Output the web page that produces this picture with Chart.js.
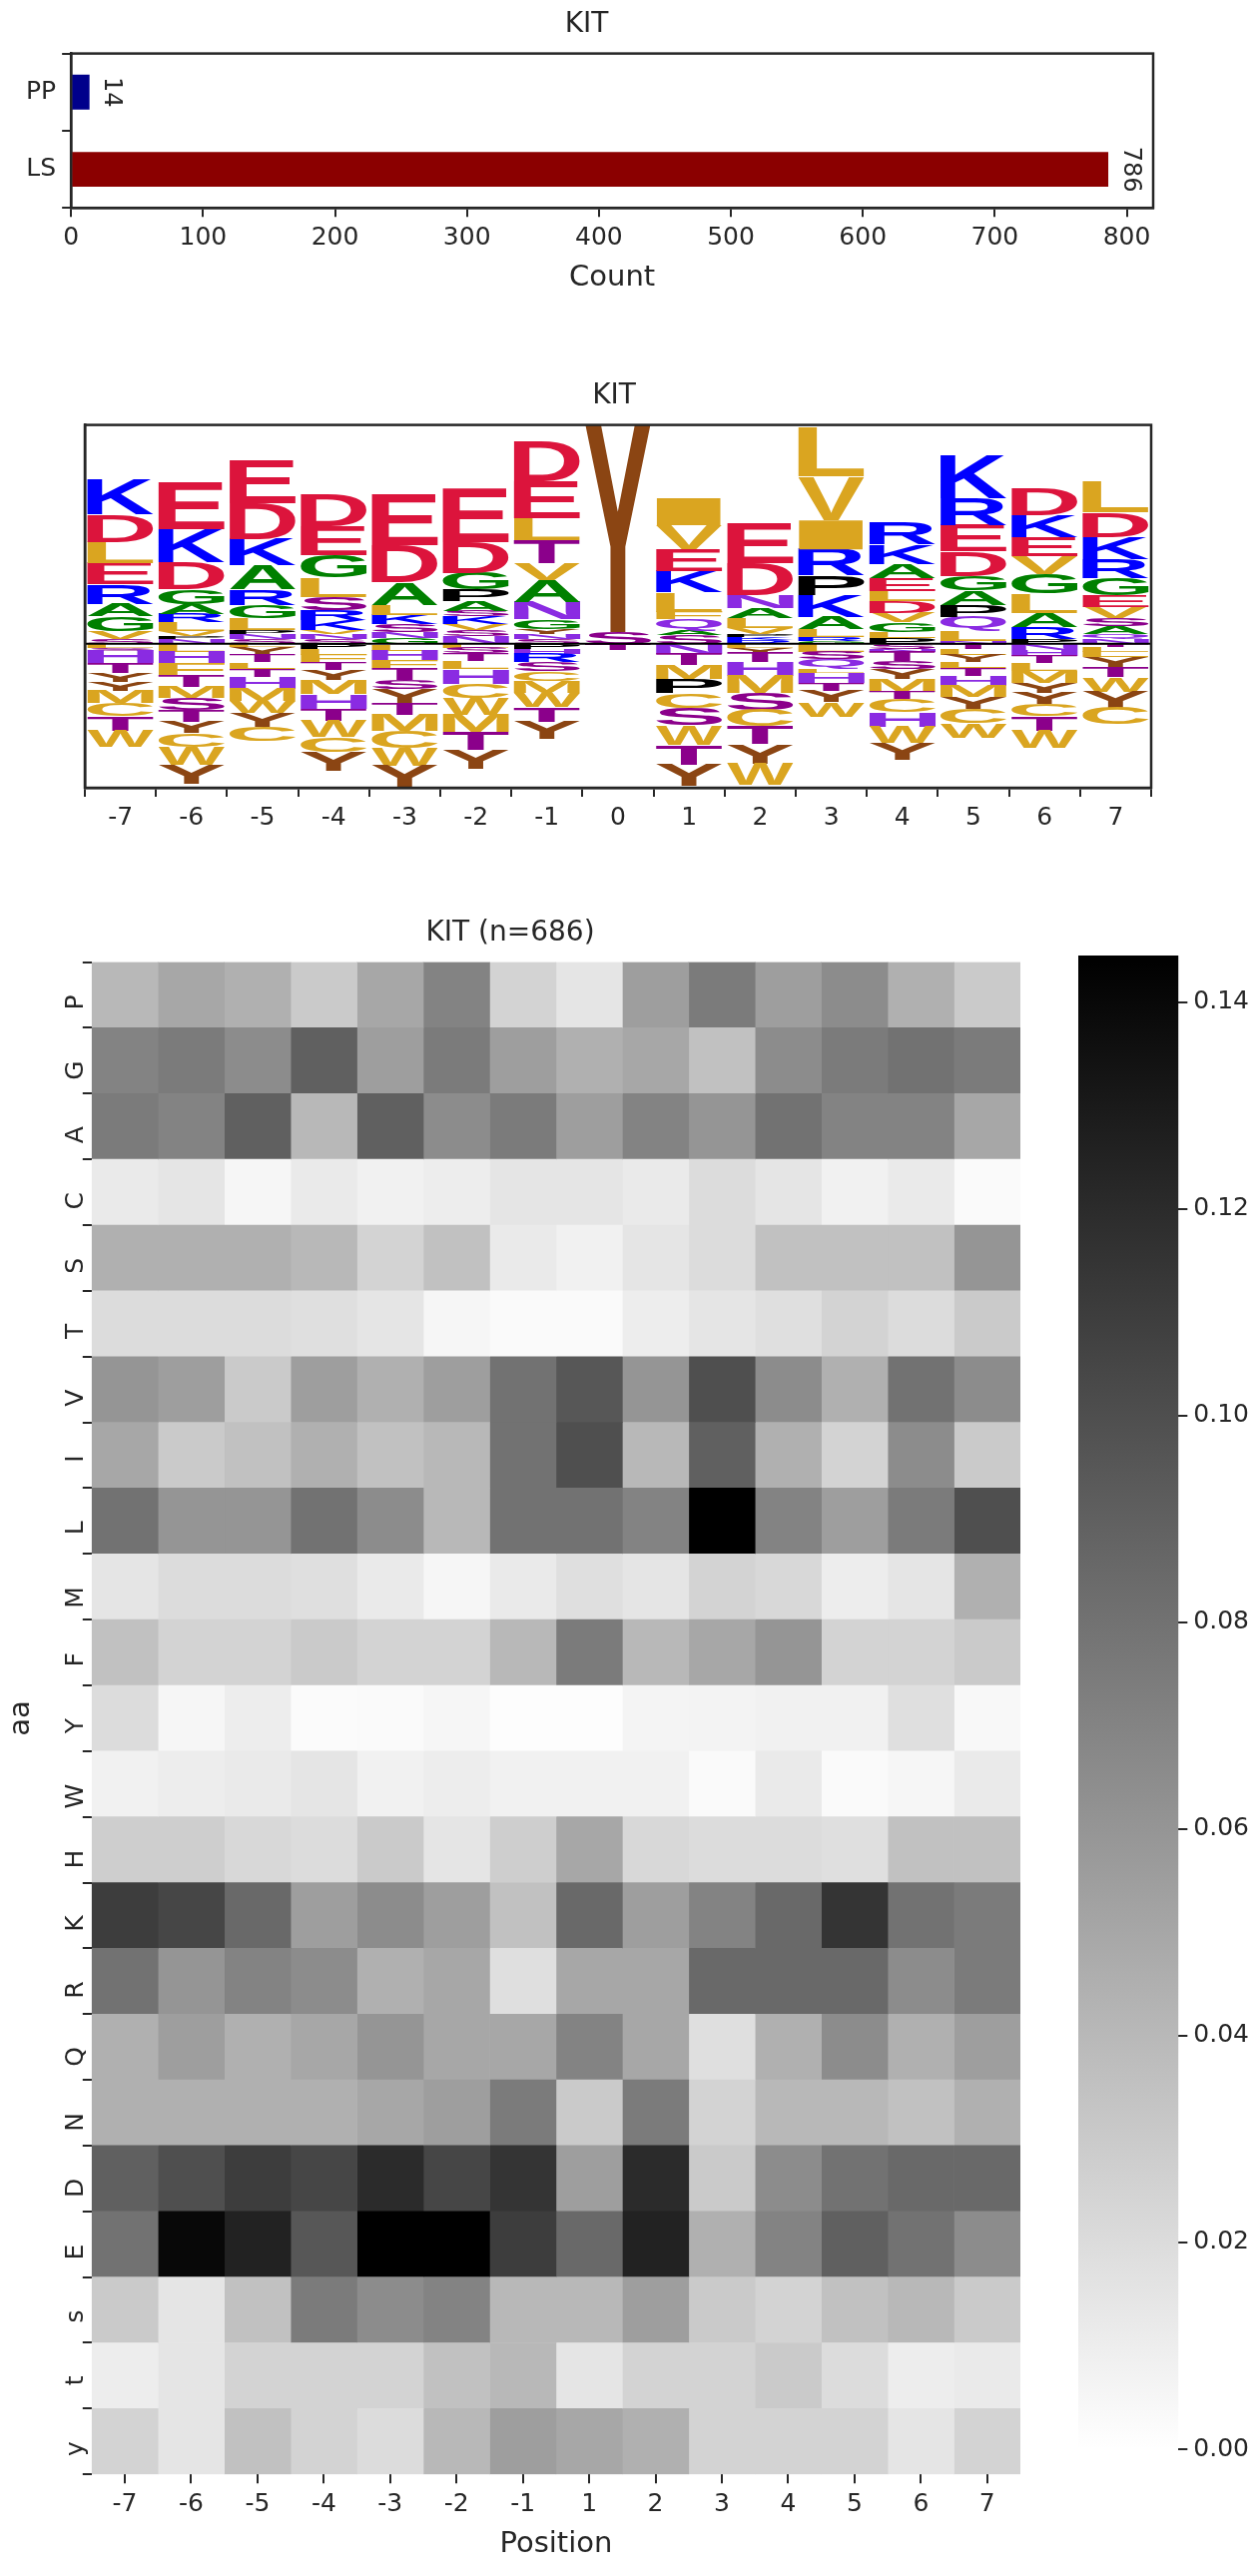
<!DOCTYPE html>
<html>
<head>
<meta charset="utf-8">
<script src="https://cdn.jsdelivr.net/npm/chart.js@4"></script>
<style>
body { margin: 0; background: #fff; width: 1257px; height: 2580px; position: relative; }
canvas { position: absolute; }
</style>
</head>
<body>
<canvas id="countChart" width="1257" height="330" style="left:0px;top:0px"></canvas>
<canvas id="logoChart" width="1257" height="480" style="left:0px;top:380px"></canvas>
<canvas id="heatChart" width="1060" height="1700" style="left:0px;top:880px"></canvas>
<canvas id="barChart" width="197" height="1700" style="left:1060px;top:880px"></canvas>
<script>
// ---- counts ----
var countLabels = ['PP', 'LS'];
var countValues = [14, 786];
var countColors = ['#00008b', '#8b0000'];
var countTicks = [0, 100, 200, 300, 400, 500, 600, 700, 800];

// ---- logo (letters from the zero line outward, heights in logo units) ----
var logoPositions = ['-7','-6','-5','-4','-3','-2','-1','0','1','2','3','4','5','6','7'];
var posLetters = ['SVGARELDK','NPVLRAGDKE','SNPLGRAKDE','SNVKRSLGED','GNSKLADE','NSVKSAPGDE','SNYGNAVTLED',
    'SY','SAQFLKEVI','RKPVLANDE','GRLAKPRIVL','PLGVDLEAKR','NLQPAGDERK','PRALGVEKD','NQASVEGRKDL'];
var posHeights = [
    [5,8,15,13,20,22,22,28,35],
    [5,3,5,9,9,10,15,28,34,48],
    [5,5,4,12,14,16,25,27,37,44],
    [5,5,4,10,10,14,20,23,30,33],
    [6,6,8,10,10,23,38,53],
    [8,6,6,8,6,10,12,17,32,55],
    [5,5,5,10,18,23,17,24,22,38,40],
    [12,215],
    [9,5,11,8,20,22,22,25,28],
    [4,3,3,6,10,11,13,33,40],
    [3,4,8,13,22,20,27,30,45,50],
    [6,6,10,10,12,10,13,15,20,23],
    [3,10,15,12,15,15,25,27,28,45],
    [5,12,15,20,20,18,20,22,28],
    [5,5,8,8,12,12,17,20,23,25,32]
];
var negLetters = ['LSHTYYMCTW','LHFTMSTYCWY','LYTLTHMWYC','PLFTYMHTWCY','LHFTSYTMCWY','LSTLHCWMTY','PHRSCMWTY',
    'T','NTMPCSWTY','LYTHMSCTYW','LSQLHTYW','SNTSYMTCHWY','TLYLTHMYCW','NHTLMYYCTW','TLLYTWYC'];
var negHeights = [
    [4,3,13,10,9,9,13,13,15,17],
    [8,12,12,12,12,12,12,12,14,18,20],
    [3,8,8,7,8,12,13,12,14,15],
    [5,6,8,8,10,15,15,12,17,15,20],
    [7,10,8,12,10,14,12,17,17,18,22],
    [4,6,8,8,15,15,17,18,18,20],
    [5,5,9,9,10,12,15,15,18],
    [6],
    [10,12,14,15,15,18,20,20,22],
    [4,5,10,14,18,17,17,18,20,22],
    [8,8,10,4,10,8,12,15],
    [5,3,10,8,10,13,8,13,15,17,17],
    [5,6,8,6,8,10,12,12,15,15],
    [6,6,8,8,12,10,12,12,15,18],
    [3,5,6,10,10,15,17,17]
];
var letterColors = {
    K: '#0000ff', R: '#0000ff', D: '#dc143c', E: '#dc143c', A: '#008000', G: '#008000', P: '#000000',
    S: '#8b008b', T: '#8b008b', N: '#8a2be2', Q: '#8a2be2', H: '#8a2be2', Y: '#8b4513',
    L: '#daa520', V: '#daa520', I: '#daa520', M: '#daa520', F: '#daa520', W: '#daa520', C: '#daa520'
};

// ---- heatmap ----
var heatPositions = ['-7','-6','-5','-4','-3','-2','-1','1','2','3','4','5','6','7'];
var aaRows = ['P','G','A','C','S','T','V','I','L','M','F','Y','W','H','K','R','Q','N','D','E','s','t','y'];
var heatValues = [
    [0.04,0.05,0.045,0.03,0.05,0.07,0.025,0.015,0.055,0.075,0.055,0.065,0.045,0.03],
    [0.07,0.075,0.065,0.09,0.055,0.075,0.055,0.045,0.05,0.035,0.065,0.075,0.08,0.075],
    [0.075,0.07,0.09,0.04,0.09,0.065,0.075,0.055,0.07,0.06,0.08,0.07,0.07,0.05],
    [0.012,0.015,0.005,0.012,0.008,0.01,0.015,0.015,0.012,0.02,0.015,0.008,0.012,0.003],
    [0.045,0.045,0.045,0.04,0.025,0.035,0.012,0.008,0.015,0.02,0.035,0.035,0.035,0.06],
    [0.02,0.02,0.02,0.018,0.015,0.005,0.003,0.003,0.01,0.015,0.018,0.025,0.02,0.03],
    [0.06,0.055,0.03,0.055,0.045,0.055,0.08,0.095,0.06,0.1,0.065,0.045,0.08,0.065],
    [0.05,0.03,0.035,0.045,0.035,0.04,0.08,0.1,0.04,0.09,0.045,0.025,0.065,0.03],
    [0.08,0.06,0.06,0.08,0.065,0.04,0.08,0.08,0.07,0.145,0.07,0.055,0.075,0.1],
    [0.015,0.02,0.02,0.018,0.012,0.005,0.012,0.018,0.015,0.025,0.022,0.01,0.015,0.045],
    [0.035,0.025,0.025,0.03,0.025,0.025,0.04,0.075,0.04,0.05,0.06,0.025,0.025,0.03],
    [0.02,0.005,0.01,0.002,0.003,0.005,0.001,0.001,0.006,0.007,0.008,0.008,0.018,0.004],
    [0.008,0.01,0.012,0.015,0.008,0.01,0.008,0.008,0.008,0.003,0.012,0.003,0.005,0.012],
    [0.028,0.028,0.022,0.02,0.03,0.015,0.028,0.05,0.022,0.02,0.02,0.018,0.035,0.035],
    [0.11,0.105,0.085,0.055,0.065,0.055,0.035,0.085,0.055,0.07,0.085,0.115,0.08,0.075],
    [0.08,0.06,0.07,0.065,0.045,0.05,0.018,0.05,0.05,0.085,0.085,0.085,0.065,0.075],
    [0.045,0.055,0.045,0.05,0.06,0.05,0.05,0.07,0.05,0.018,0.045,0.065,0.045,0.055],
    [0.045,0.045,0.045,0.045,0.05,0.055,0.075,0.03,0.075,0.025,0.04,0.04,0.035,0.045],
    [0.09,0.1,0.11,0.105,0.12,0.105,0.115,0.055,0.12,0.03,0.065,0.08,0.085,0.085],
    [0.08,0.14,0.125,0.095,0.145,0.145,0.11,0.085,0.125,0.045,0.07,0.09,0.08,0.065],
    [0.03,0.015,0.035,0.075,0.065,0.07,0.04,0.04,0.055,0.03,0.025,0.035,0.04,0.03],
    [0.01,0.015,0.025,0.025,0.025,0.035,0.04,0.015,0.025,0.025,0.03,0.02,0.01,0.012],
    [0.025,0.015,0.035,0.025,0.02,0.04,0.055,0.05,0.045,0.025,0.025,0.025,0.015,0.025]
];
var heatMax = 0.1445;
var colorbarTicks = [0, 0.02, 0.04, 0.06, 0.08, 0.10, 0.12, 0.14];

Chart.defaults.font.family = 'DejaVu Sans';
Chart.defaults.color = '#262626';
Chart.defaults.animation = false;

var tickFont = { size: 25 };
var axisGrid = { display: true, drawOnChartArea: false, drawTicks: true, tickLength: 9, lineWidth: 2, color: '#262626' };
var axisBorder = { display: true, width: 2.5, color: '#262626' };

var frame = {
    id: 'frame',
    afterDraw: function(chart) {
        var a = chart.chartArea, ctx = chart.ctx;
        ctx.save();
        ctx.strokeStyle = '#262626';
        ctx.lineWidth = 2.5;
        ctx.strokeRect(a.left, a.top, a.right - a.left, a.bottom - a.top);
        ctx.restore();
    }
};

function grey(v) {
    var t = Math.max(0, Math.min(1, v / heatMax));
    var g = Math.round(255 * (1 - t));
    return 'rgb(' + g + ',' + g + ',' + g + ')';
}

// ---- count chart ----
new Chart(document.getElementById('countChart'), {
    type: 'bar',
    data: {
        labels: countLabels,
        datasets: [{ data: countValues, backgroundColor: countColors, barPercentage: 0.45, categoryPercentage: 1 }]
    },
    options: {
        indexAxis: 'y',
        responsive: false,
        devicePixelRatio: 1,
        layout: { padding: { left: 20, right: 102, top: 8, bottom: 30 } },
        scales: {
            x: {
                min: 0, max: 820,
                afterBuildTicks: function(axis) { axis.ticks = countTicks.map(function(v) { return { value: v }; }); },
                ticks: { font: tickFont, padding: 6 },
                grid: axisGrid, border: axisBorder,
                title: { display: true, text: 'Count', font: { size: 29 }, padding: { top: 2 } }
            },
            y: { ticks: { font: tickFont, padding: 6 }, grid: axisGrid, border: axisBorder }
        },
        plugins: {
            legend: { display: false },
            tooltip: { enabled: false },
            title: { display: true, text: 'KIT', font: { size: 28, weight: 'normal' }, color: '#262626', padding: { bottom: 12 } }
        }
    },
    plugins: [frame, {
        id: 'valueLabels',
        afterDatasetsDraw: function(chart) {
            var ctx = chart.ctx;
            chart.getDatasetMeta(0).data.forEach(function(el, i) {
                ctx.save();
                ctx.translate(el.x + 10, el.y);
                ctx.rotate(Math.PI / 2);
                ctx.font = '24px DejaVu Sans';
                ctx.fillStyle = '#262626';
                ctx.textAlign = 'center';
                ctx.textBaseline = 'bottom';
                ctx.fillText(String(countValues[i]), 0, 0);
                ctx.restore();
            });
        }
    }]
});

// ---- logo chart ----
var logoDatasets = [];
var maxPos = Math.max.apply(null, posLetters.map(function(s) { return s.length; }));
var maxNeg = Math.max.apply(null, negLetters.map(function(s) { return s.length; }));
for (var k = 0; k < maxPos; k++) {
    logoDatasets.push({
        letters: posLetters.map(function(s) { return s[k] || ''; }),
        data: posHeights.map(function(h) { return h[k] || 0; })
    });
}
for (var k2 = 0; k2 < maxNeg; k2++) {
    logoDatasets.push({
        letters: negLetters.map(function(s) { return s[k2] || ''; }),
        data: negHeights.map(function(h) { return -(h[k2] || 0); })
    });
}
logoDatasets.forEach(function(d) {
    d.backgroundColor = 'rgba(0,0,0,0)';
    d.barPercentage = 0.93;
    d.categoryPercentage = 1;
    d.stack = 'logo';
});

new Chart(document.getElementById('logoChart'), {
    type: 'bar',
    data: { labels: logoPositions, datasets: logoDatasets },
    options: {
        responsive: false,
        devicePixelRatio: 1,
        layout: { padding: { left: 77, right: 104, top: 0, bottom: 20 } },
        scales: {
            x: { stacked: true, ticks: { font: tickFont, padding: 6 }, grid: axisGrid, border: axisBorder },
            y: { stacked: true, min: -148, max: 225, ticks: { display: false }, grid: { display: false }, border: axisBorder }
        },
        plugins: {
            legend: { display: false },
            tooltip: { enabled: false },
            title: { display: true, text: 'KIT', font: { size: 28, weight: 'normal' }, color: '#262626', padding: { top: 0, bottom: 12 } }
        }
    },
    plugins: [frame, {
        id: 'letters',
        afterDatasetsDraw: function(chart) {
            var ctx = chart.ctx;
            var a = chart.chartArea;
            ctx.save();
            ctx.beginPath();
            ctx.rect(a.left, a.top, a.right - a.left, a.bottom - a.top);
            ctx.clip();
            ctx.font = 'bold 200px "Liberation Sans"';
            ctx.textBaseline = 'alphabetic';
            chart.data.datasets.forEach(function(ds, di) {
                chart.getDatasetMeta(di).data.forEach(function(el, i) {
                    var ch = ds.letters[i];
                    if (!ch || !ds.data[i]) return;
                    var top = Math.min(el.y, el.base), bot = Math.max(el.y, el.base);
                    var h = bot - top, w = el.width;
                    var m = ctx.measureText(ch);
                    var gw = m.actualBoundingBoxLeft + m.actualBoundingBoxRight;
                    var gh = m.actualBoundingBoxAscent + m.actualBoundingBoxDescent;
                    ctx.save();
                    ctx.translate(el.x - w / 2, top);
                    ctx.scale(w / gw, h / gh);
                    ctx.fillStyle = letterColors[ch];
                    ctx.fillText(ch, m.actualBoundingBoxLeft, m.actualBoundingBoxAscent);
                    ctx.restore();
                });
            });
            var y0 = chart.scales.y.getPixelForValue(0);
            ctx.strokeStyle = '#000';
            ctx.lineWidth = 2;
            ctx.beginPath();
            ctx.moveTo(a.left, y0);
            ctx.lineTo(a.right, y0);
            ctx.stroke();
            ctx.restore();
        }
    }]
});

// ---- heatmap ----
var heatDatasets = heatPositions.map(function(p, c) {
    return {
        data: aaRows.map(function() { return [c - 0.5, c + 0.5]; }),
        backgroundColor: heatValues.map(function(row) { return grey(row[c]); }),
        barPercentage: 1,
        categoryPercentage: 1,
        grouped: false
    };
});

new Chart(document.getElementById('heatChart'), {
    type: 'bar',
    data: { labels: aaRows, datasets: heatDatasets },
    options: {
        indexAxis: 'y',
        responsive: false,
        devicePixelRatio: 1,
        layout: { padding: { left: 0, right: 38, top: 0, bottom: 10 } },
        scales: {
            x: {
                min: -0.5, max: heatPositions.length - 0.5,
                afterBuildTicks: function(axis) { axis.ticks = heatPositions.map(function(p, i) { return { value: i }; }); },
                ticks: { font: tickFont, padding: 6, callback: function(v) { return heatPositions[v]; } },
                grid: { display: true, drawOnChartArea: false, drawTicks: true, tickLength: 9, lineWidth: 2, color: '#262626' },
                border: { display: false },
                title: { display: true, text: 'Position', font: { size: 29 }, padding: { top: 2 } }
            },
            y: {
                ticks: { font: tickFont, padding: 6, maxRotation: 90, minRotation: 90 },
                grid: { display: true, drawOnChartArea: false, drawTicks: true, tickLength: 9, lineWidth: 2, color: '#262626' },
                border: { display: false },
                title: { display: true, text: 'aa', font: { size: 29 }, padding: { bottom: 2 } }
            }
        },
        plugins: {
            legend: { display: false },
            tooltip: { enabled: false },
            title: { display: true, text: 'KIT (n=686)', font: { size: 28, weight: 'normal' }, color: '#262626', padding: { top: 38, bottom: 12 } }
        }
    }
});

// ---- colorbar ----
new Chart(document.getElementById('barChart'), {
    type: 'bar',
    data: {
        labels: [''],
        datasets: [{
            data: [[0, heatMax]],
            barPercentage: 1,
            categoryPercentage: 1,
            backgroundColor: function(ctx) {
                var a = ctx.chart.chartArea;
                if (!a) return '#888';
                var g = ctx.chart.ctx.createLinearGradient(0, a.bottom, 0, a.top);
                g.addColorStop(0, '#ffffff');
                g.addColorStop(1, '#000000');
                return g;
            }
        }]
    },
    options: {
        responsive: false,
        devicePixelRatio: 1,
        layout: { padding: { left: 20, right: 0, top: 77, bottom: 127 } },
        scales: {
            x: { display: false },
            y: {
                position: 'right', min: 0, max: heatMax,
                afterBuildTicks: function(axis) { axis.ticks = colorbarTicks.map(function(v) { return { value: v }; }); },
                ticks: { font: tickFont, padding: 6, callback: function(v) { return v.toFixed(2); } },
                grid: { display: true, drawOnChartArea: false, drawTicks: true, tickLength: 9, lineWidth: 2, color: '#262626' },
                border: { display: false }
            }
        },
        plugins: { legend: { display: false }, tooltip: { enabled: false } }
    }
});
</script>
</body>
</html>
